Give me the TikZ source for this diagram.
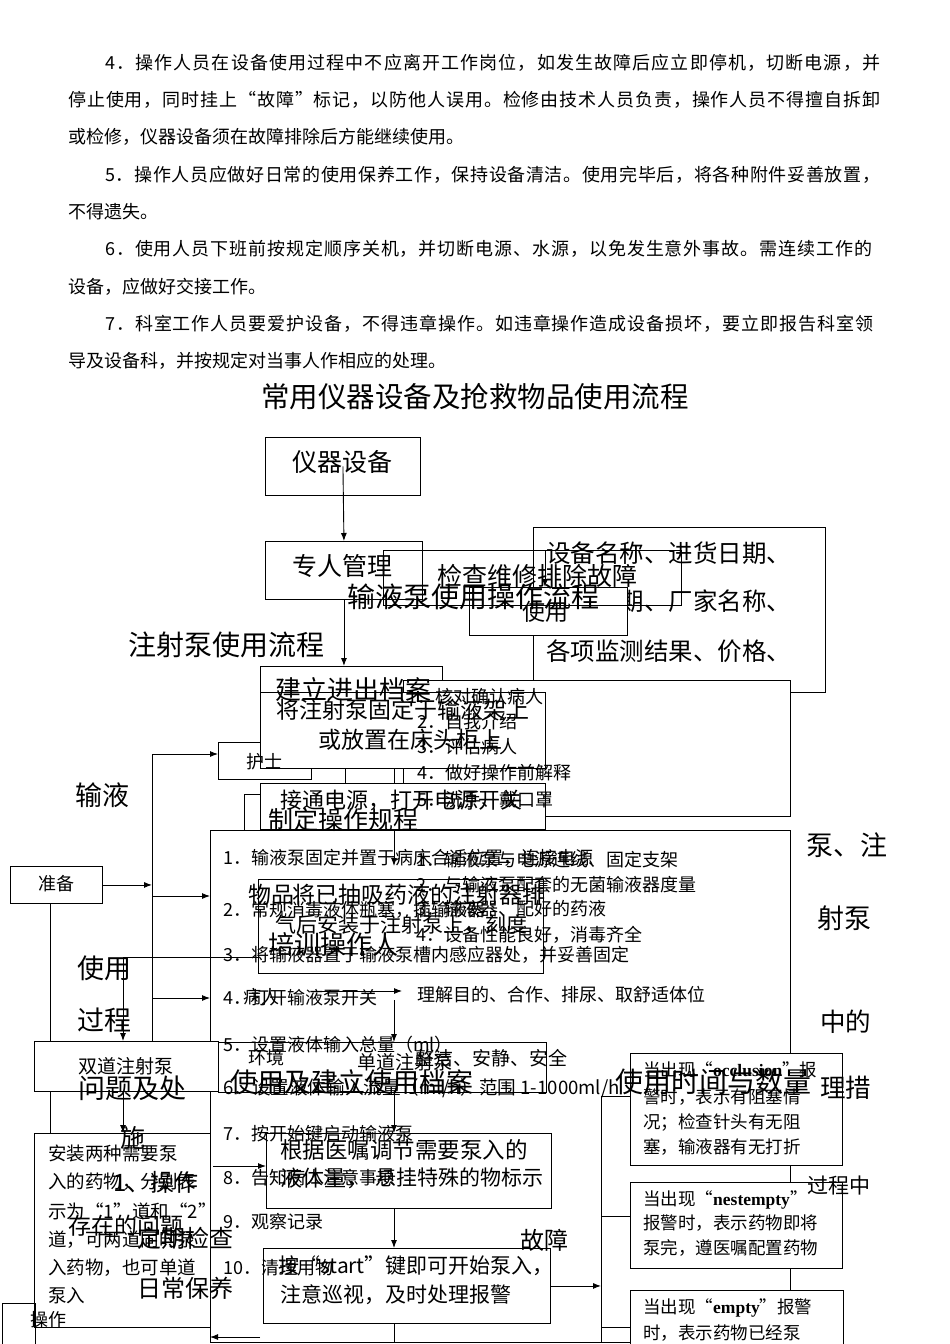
\documentclass[tikz,border=0pt]{standalone}
\usepackage{fontspec}
\setmainfont{Noto Sans CJK SC}
\newfontfamily\lat{Liberation Serif}
\usetikzlibrary{arrows.meta}
\newcommand{\fs}[1]{\fontsize{#1}{#1}\selectfont}
\def\sc#1#2{#1\ifx\relax#2\else\hfil\expandafter\sc\expandafter#2\fi}
\newcommand{\jl}[2]{\hbox to #1pt{\sc#2\relax}}
\begin{document}
\begin{tikzpicture}[x=1pt,y=-1pt,font=\fs{18}]
\tikzset{bx/.style={draw, line width=0.9pt, anchor=north west, inner sep=0pt},
  wbx/.style={bx, fill=white},
  tx/.style={anchor=west, inner sep=0pt},
  mid/.style={inner sep=0pt},
  ln/.style={line width=0.9pt},
  arr/.style={line width=0.9pt, -{Latex[length=8pt, width=6pt]}}}
\useasboundingbox (0,0) rectangle (950,1344);

% rules text
\node[tx] (p1) at (105,63) {\jl{775}{4．操作人员在设备使用过程中不应离开工作岗位，如发生故障后应立即停机，切断电源，并}};
\node[tx] (p2) at (68,100) {\jl{812}{停止使用，同时挂上“故障”标记，以防他人误用。检修由技术人员负责，操作人员不得擅自拆卸}};
\node[tx] (p3) at (68,137) {或检修，仪器设备须在故障排除后方能继续使用。};
\node[tx] (p4) at (105,175) {\jl{775}{5．操作人员应做好日常的使用保养工作，保持设备清洁。使用完毕后，将各种附件妥善放置，}};
\node[tx] (p5) at (68,212) {不得遗失。};
\node[tx] (p6) at (105,249) {\jl{767}{6．使用人员下班前按规定顺序关机，并切断电源、水源，以免发生意外事故。需连续工作的}};
\node[tx] (p7) at (68,287) {设备，应做好交接工作。};
\node[tx] (p8) at (105,324) {\jl{768}{7．科室工作人员要爱护设备，不得违章操作。如违章操作造成设备损坏，要立即报告科室领}};
\node[tx] (p9) at (68,361) {导及设备科，并按规定对当事人作相应的处理。};

\node[mid, font=\fs{28.5}] (title) at (475,397) {常用仪器设备及抢救物品使用流程};

% equipment
\node[bx, minimum width=155pt, minimum height=58pt] (yqsb) at (265,437) {};
\node[mid, font=\fs{25}] (yqsbt) at (342,462) {仪器设备};
\node[bx, minimum width=157pt, minimum height=58pt] (zrgl) at (265,541) {};
\node[mid, font=\fs{25}] (zrglt) at (342,566) {专人管理};
\node[bx, minimum width=292pt, minimum height=165pt] (sbmc) at (533,527) {};
\node[tx, font=\fs{24.5}] (sbmc1) at (546,553) {设备名称、进货日期、};
\node[tx, font=\fs{24.5}] (sbmc2) at (546,601) {出厂日期、厂家名称、};
\node[tx, font=\fs{24.5}] (sbmc3) at (546,651) {各项监测结果、价格、};
\node[wbx, minimum width=158pt, minimum height=48pt] (sy) at (469,587) {};
\node[bx, minimum width=298pt, minimum height=55pt] (jcwx) at (383,550) {};
\node[mid, font=\fs{25}] (jcwxt) at (537,576) {检查维修排除故障};
\node[mid, font=\fs{23}] (syt) at (545,612) {使用};
\node[tx, font=\fs{28}] (sybt) at (347,597) {输液泵使用操作流程};
\node[tx, font=\fs{28}] (zsbt) at (128,645) {注射泵使用流程};

% archive and nurse
\node[wbx, minimum width=93pt, minimum height=37pt] (hs) at (218,742) {};
\node[wbx, minimum width=182pt, minimum height=40pt] (jlda) at (260,666) {};
\node[wbx, minimum width=387pt, minimum height=136pt] (hdqr) at (403,680) {};
\node[wbx, minimum width=285pt, minimum height=76pt] (jzsb) at (260,692) {};
\node[tx, font=\fs{26}] (jldat) at (275,690) {建立进出档案};
\node[mid, font=\fs{23}] (jzsb1) at (403,710) {将注射泵固定于输液架上};
\node[mid, font=\fs{23}] (jzsb2) at (410,740) {或放置在床头柜上};
\node[tx] (hd1) at (407,697) {1．核对确认病人};
\node[tx] (hd2) at (417,722) {2．自我介绍};
\node[tx] (hd3) at (417,747) {3．评估病人};
\node[tx] (hd4) at (417,773) {4．做好操作前解释};
\node[mid] (hst) at (264,762) {护士};
\node[wbx, minimum width=301pt, minimum height=36pt] (zdgc) at (244,794) {};
\node[wbx, minimum width=285pt, minimum height=46pt] (jtdy) at (260,783) {};
\node[tx] (hd5) at (417,800) {5．洗手、戴口罩};
\node[tx, font=\fs{22}] (jtdyt) at (280,800) {接通电源，打开电源开关};
\node[tx, font=\fs{25}] (zdgct) at (268,820) {制定操作规程};

% procedure
\node[bx, minimum width=580pt, minimum height=512pt] (czlc) at (210,830) {};
\node[bx, minimum width=285pt, minimum height=94pt] (yczs) at (258,879) {};
\node[tx] (s1) at (223,858) {1．输液泵固定并置于病床合适位置，连接电源};
\node[tx] (s2) at (223,910) {2．常规消毒液体瓶塞，插输液器};
\node[tx] (s3) at (223,955) {3．将输液器置于输液泵槽内感应器处，并妥善固定};
\node[tx] (s4) at (223,998) {4．打开输液泵开关};
\node[tx] (s5) at (223,1045) {5．设置液体输入总量（ml）};
\node[tx, font=\fs{18.6}] (s6) at (223,1088) {6．设置液体输入流量（ml/h）范围 1-1000ml/h};
\node[tx] (s7) at (223,1134) {7．按开始键启动输液泵};
\node[tx] (s8) at (223,1178) {8．告知病人注意事项};
\node[tx] (s9) at (223,1222) {9．观察记录};
\node[tx] (s10) at (223,1268) {10．清理用物};
\node[tx] (zb1) at (416,860) {1．输液泵与电源连线、固定支架};
\node[tx] (zb2) at (416,885) {2．与输液泵配套的无菌输液器度量};
\node[tx] (zb3) at (416,909) {3．输液器、配好的药液};
\node[tx] (zb4) at (416,935) {4．设备性能良好，消毒齐全};
\node[tx, font=\fs{23}] (wp) at (248,895) {物品};
\node[tx, font=\fs{23}] (yc1) at (292,895) {将已抽吸药液的注射器排};
\node[tx, font=\fs{21}] (yc2) at (275,925) {气后安装于注射泵上，刻度};
\node[tx, font=\fs{26}] (pxcz) at (268,945) {培训操作人};
\node[tx] (br) at (243,997) {病人};
\node[tx] (ljmd) at (417,995) {理解目的、合作、排尿、取舒适体位};

\node[bx, minimum width=328pt, minimum height=50pt] (hj) at (218,1042) {};
\node[tx] (hjt) at (248,1058) {环境};
\node[tx, font=\fs{19}] (ddt) at (357,1062) {单道注射泵};
\node[tx, font=\fs{19}] (zjt) at (415,1058) {整洁、安静、安全};
\node[tx, font=\fs{27}] (jlsy) at (230,1082) {使用及建立使用档案};

\node[bx, minimum width=285pt, minimum height=75pt] (gj) at (266,1133) {};
\node[tx, font=\fs{22.5}] (gj1) at (280,1150) {根据医嘱调节需要泵入的};
\node[tx, font=\fs{22}] (gj2) at (280,1178) {液体量，};
\node[tx, font=\fs{21}] (gj3) at (375,1178) {悬挂特殊的物标示};
\node[bx, minimum width=287pt, minimum height=75pt] (st) at (263,1248) {};
\node[tx, font=\fs{21}] (st1) at (278,1266) {按“start”键即可开始泵入，};
\node[tx, font=\fs{21}] (st2) at (280,1295) {注意巡视，及时处理报警};
\node[tx, font=\fs{24}] (gz) at (520,1240) {故障};

% left column
\node[bx, minimum width=92pt, minimum height=37pt] (zb) at (10,866) {};
\node[mid] (zbt) at (56,884) {准备};
\node[tx, font=\fs{27}] (syy) at (75,795) {输液};
\node[wbx, minimum width=184pt, minimum height=50pt] (sd) at (34,1041) {};
\node[mid, font=\fs{19}] (sdt) at (126,1066) {双道注射泵};
\node[wbx, minimum width=176pt, minimum height=194pt] (az) at (34,1133) {};
\node[tx, font=\fs{18.5}] (az1) at (48,1153) {安装两种需要泵};
\node[tx, font=\fs{18.5}] (az2) at (48,1182) {入的药物，分别表};
\node[tx, font=\fs{18.5}] (az3) at (48,1211) {示为“1”道和“2”};
\node[tx, font=\fs{18.5}] (az4) at (48,1240) {道，可两道同时泵};
\node[tx, font=\fs{18.5}] (az5) at (48,1268) {入药物，也可单道};
\node[tx, font=\fs{18.5}] (az6) at (48,1296) {泵入};
\node[bx, minimum width=33pt, minimum height=45pt] (op) at (2,1303) {};
\node[tx] (opt) at (30,1320) {操作};
\node[tx, font=\fs{27}] (gc1) at (77,968) {使用};
\node[tx, font=\fs{27}] (gc2) at (77,1020) {过程};
\node[tx, font=\fs{27}] (gc3) at (78,1088) {问题及处};
\node[tx, font=\fs{25}] (gc4) at (120,1138) {施};
\node[tx, font=\fs{24}] (czy) at (113,1182) {1、操作};
\node[tx, font=\fs{23}] (czwt) at (68,1226) {存在的问题};
\node[tx, font=\fs{24}] (dqjc) at (137,1238) {定期检查};
\node[tx, font=\fs{24}] (rcby) at (137,1288) {日常保养};

% alarms
\node[wbx, minimum width=212pt, minimum height=112pt] (al1) at (630,1053) {};
\node[tx, font=\fs{17.5}] (al11) at (643,1070) {当出现“{\lat\bfseries occlusion}”报};
\node[tx, font=\fs{17.5}] (al12) at (643,1097) {警时，表示有阻塞情};
\node[tx, font=\fs{17.5}] (al13) at (643,1122) {况；检查针头有无阻};
\node[tx, font=\fs{17.5}] (al14) at (643,1147) {塞，输液器有无打折};
\node[wbx, minimum width=212pt, minimum height=86pt] (al2) at (630,1182) {};
\node[tx, font=\fs{17.5}] (al21) at (643,1200) {当出现“{\lat\bfseries nestempty}”};
\node[tx, font=\fs{17.5}] (al22) at (643,1223) {报警时，表示药物即将};
\node[tx, font=\fs{17.5}] (al23) at (643,1248) {泵完，遵医嘱配置药物};
\node[wbx, minimum width=213pt, minimum height=70pt] (al3) at (630,1290) {};
\node[tx, font=\fs{17.5}] (al31) at (643,1308) {当出现“{\lat\bfseries empty}”报警};
\node[tx, font=\fs{17.5}] (al32) at (643,1333) {时，表示药物已经泵};
\node[tx, font=\fs{28}] (sjsl) at (615,1082) {使用时间与数量};
\node[tx, font=\fs{27}] (r1) at (806,845) {泵、注};
\node[tx, font=\fs{27}] (r2) at (817,918) {射泵};
\node[tx, font=\fs{25.5}] (r3) at (820,1022) {中的};
\node[tx, font=\fs{25.5}] (r4) at (820,1088) {理措};
\node[tx, font=\fs{21}] (r5) at (807,1185) {过程中};

% connectors
\coordinate (sp) at (394,0);
\coordinate (x345) at (345,0);
\coordinate (xs) at (152,754);
\coordinate (zx) at (50,0);
\coordinate (sy0) at (123,957);
\coordinate (k1) at (394,866);
\coordinate (k4) at (394,1000);
\coordinate (lj0) at (315,991);
\coordinate (lj1) at (402,991);
\coordinate (yin) at (152,896);
\coordinate (ydk) at (152,998);
\coordinate (g0) at (213,1166);
\coordinate (b0) at (260,1337);
\coordinate (al) at (601,1096);
\coordinate (al2y) at (601,1216);
\coordinate (al3y) at (601,1327);

\draw[arr] (yqsb.center) -- (zrgl.north);
\draw[arr] (zrgl.south) -- (zrgl.south |- jlda.north);
\draw[arr] (jcwx.north -| syt) -- (sy.north -| syt);
\draw[ln] (jzsb.south -| x345) -- (jtdy.north -| x345);
\draw[ln] (jzsb.south -| sp) -- (jtdy.north -| sp);
\draw[arr] (jtdy.south -| sp) -- (k1);
\draw[arr] (lj0) -- (lj1);
\draw[arr] (k4) -- (hj.north -| sp);
\draw[arr] (hj.south -| sp) -- (gj.north -| sp);
\draw[arr] (gj.south -| sp) -- (st.north -| sp);
\draw[ln] (st.south -| sp) -- (czlc.south -| sp);

\draw[arr] (zb.east) -- (zb.east -| xs);
\draw[ln] (xs) -- (xs |- sd.north);
\draw[arr] (xs) -- (hs.west |- xs);
\draw[arr] (yin) -- (czlc.west |- yin);
\draw[arr] (ydk) -- (czlc.west |- ydk);
\draw[ln] (zb.south -| zx) -- (sd.north -| zx);
\draw[ln] (sd.south -| zx) -- (az.north -| zx);
\draw[ln] (sy0) -- (yczs.west |- sy0);
\draw[arr] (sy0) -- (sy0 |- sd.north);
\draw[arr] (sd.south -| sy0) -- (az.north -| sy0);
\draw[arr] (g0) -- (gj.west |- g0);
\draw[arr] (b0) -- (czlc.west |- b0);

\draw[arr] (st.east) -- (st.east -| al);
\draw[ln] (al) -- (al |- czlc.south);
\draw[ln] (al) -- (al1.west |- al);
\draw[ln] (al2y) -- (al2.west |- al2y);
\draw[ln] (al3y) -- (al3.west |- al3y);
\end{tikzpicture}
\end{document}
